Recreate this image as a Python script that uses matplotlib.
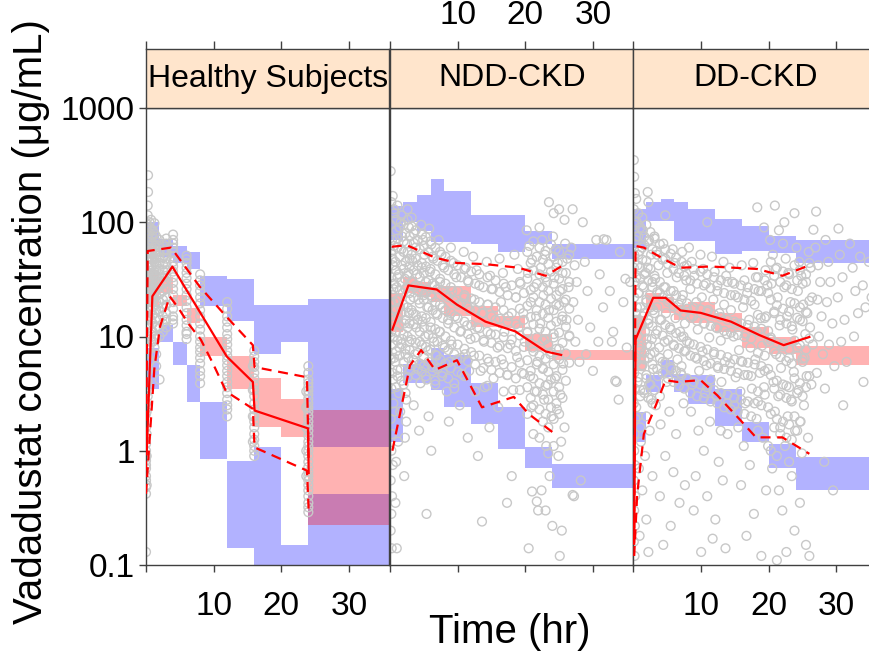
import matplotlib
matplotlib.use('Agg')
import matplotlib.pyplot as plt
import numpy as np

plt.rcParams['font.family'] = ['Liberation Sans', 'DejaVu Sans']

# ---------------- data ----------------
panel_titles = ["Healthy Subjects", "NDD-CKD", "DD-CKD"]
x_ticks = [0, 10, 20, 30]
x_ticklabels = ["", "10", "20", "30"]
y_ticks = [0.1, 1, 10, 100, 1000]
y_ticklabels = ["0.1", "1", "10", "100", "1000"]

# bin edges (hr)
hs_edges = [0, 0.2, 1.85, 4, 6, 8, 12, 16, 20, 24, 36]
ndd_edges = [0, 1.85, 4, 6, 8, 12, 16, 20, 24, 36]
dd_edges = [0, 1.9, 4, 6, 8, 12, 16, 20, 24, 36]

# simulated 90% CI per bin: (low, high)
hs_upper_ci = [(1.2, 6), (62, 100), (50, 71), (44, 62), (39, 55), (18.4, 33.8), (13.6, 31.6), (7.0, 18.8), (9.0, 18.8), (1.07, 21.3)]
hs_median_ci = [(0.5, 1.2), (18, 38), (24, 33), (18.4, 23.3), (13.1, 17.8), (6.7, 10), (3.5, 6.7), (1.6, 4.3), (1.31, 2.86), (0.225, 2.28)]
hs_lower_ci = [(0.05, 0.225), (3.5, 8), (9.0, 12.7), (5.6, 9.0), (2.67, 5.6), (0.84, 2.67), (0.14, 0.82), (0.05, 1.07), (0.05, 0.15), (0.05, 0.415)]

ndd_upper_ci = [(70, 140), (100, 150), (84, 172), (67, 241), (67, 186), (64, 115), (55, 115), (64, 84), (48, 64)]
ndd_median_ci = [(11, 24), (24, 33), (22, 30), (20, 27), (15, 27.6), (12.2, 18.4), (11.9, 15), (7.5, 10.5), (6.2, 7.6)]
ndd_lower_ci = [(1.2, 3.5), (3.9, 5.8), (3.9, 6.2), (3.4, 7.9), (2.4, 6.9), (1.72, 3.9), (1.03, 2.4), (0.71, 1.07), (0.47, 0.76)]

dd_upper_ci = [(60, 130), (103, 150), (103, 160), (69, 150), (69, 131), (52.5, 107), (56, 93), (54, 76), (44, 70)]
dd_median_ci = [(5, 15), (17, 24), (16, 22), (14, 19), (13, 20), (11, 16), (8, 12), (7, 10), (5.6, 8.2)]
dd_lower_ci = [(1.2, 2.2), (3.27, 4.6), (4.4, 6.2), (3.27, 4.7), (2.58, 4.6), (1.66, 3.5), (1.19, 1.78), (0.71, 1.15), (0.45, 0.88)]

# observed percentiles (lines)
hs_med_t = [0.1, 0.94, 3.9, 11.95, 15.8, 16.05, 23.95, 24.05]
hs_med_c = [0.93, 22.5, 40.9, 6.67, 4.0, 2.25, 1.57, 0.64]
hs_p95_t = [0.0, 0.25, 3.7, 5.7, 7.9, 11.85, 15.8, 16.05, 23.8, 24.05]
hs_p95_c = [0.67, 56, 60, 41.5, 27.5, 15, 8.4, 5.4, 4.4, 0.8]
hs_p05_t = [0.0, 1.23, 2.07, 3.5, 4.94, 6.2, 8.1, 9.9, 11.85, 15.8, 16.05, 23.8, 24.05]
hs_p05_c = [0.42, 5.2, 12.2, 22.5, 17.2, 13.1, 9.4, 5.8, 3.3, 2.33, 1.07, 0.67, 0.3]

ndd_med_t = [0.35, 2.72, 6.9, 9.9, 14.1, 18.5, 23.0, 25.3]
ndd_med_c = [11.5, 28, 25.8, 19, 13.5, 11.1, 7.4, 6.9]
ndd_p95_t = [0.25, 2.47, 6.67, 9.9, 14.1, 19.0, 23.0, 25.3]
ndd_p95_c = [61, 63, 49, 44, 43, 40, 34, 41]
ndd_p05_t = [0.35, 2.96, 4.6, 6.67, 9.9, 13.6, 18.3, 20.5, 24.4]
ndd_p05_c = [1.0, 5.6, 7.6, 5.1, 6.2, 2.4, 2.96, 2.1, 1.4]

dd_med_t = [0.1, 0.3, 2.9, 4.74, 6.96, 9.93, 14.4, 18.6, 22.2, 26.0]
dd_med_c = [0.16, 9.4, 21.8, 21.8, 16.9, 16.1, 13.5, 10.3, 8.4, 9.9]
dd_p95_t = [0.1, 0.3, 1.53, 4.5, 6.96, 11.4, 18.3, 22.0, 26.0]
dd_p95_c = [0.15, 62, 60, 47.5, 40, 41, 39, 34, 42]
dd_p05_t = [0.1, 0.54, 1.53, 3.0, 4.74, 6.47, 9.93, 12.4, 15.85, 18.1, 22.0, 26.0]
dd_p05_c = [0.12, 0.41, 1.4, 2.25, 4.15, 4.0, 4.15, 3.05, 1.84, 1.31, 1.31, 0.94]

# observed concentrations, healthy subjects (sampling time -> values)
hs_obs_times = [0.0, 0.1, 0.25, 0.3, 0.5, 0.75, 1, 1.25, 1.5, 2, 2.5, 3, 4, 6, 8, 12, 15.8, 16, 23.7, 24]
hs_obs_conc = [
    [0.13, 0.42, 0.48, 0.55, 0.6, 0.7, 0.75, 0.82, 0.9, 1.0, 1.15, 1.3, 1.6, 2.1, 2.6, 3.2, 4.0],
    [0.5, 0.9, 1.4, 2.2, 3.5, 5.5, 9, 14, 22, 35, 55, 90],
    [3, 4, 5, 6.5, 8, 10, 12, 15, 18, 21, 25, 30, 35, 41, 48, 54, 60, 67, 75, 85, 95, 115, 140],
    [184, 258],
    [6, 8, 10, 12.5, 15, 17.5, 20, 23, 26, 29, 32, 36, 40, 45, 50, 56, 62, 70, 80, 90, 100],
    [7, 9, 11, 14, 17, 21, 25, 30, 35, 41, 48, 55, 64, 74, 88, 105],
    [9, 11, 13, 15.5, 18, 20, 22, 25, 28, 31, 35, 38, 42, 47, 52, 58, 65, 75, 85],
    [8, 10, 16, 24, 33, 45, 62, 80, 98],
    [5.5, 7, 9.5, 12, 14.5, 17, 20, 23, 26.5, 30, 34, 38, 43, 48, 54, 60, 67, 75],
    [4.2, 10, 12, 14, 16.5, 20, 23.5, 27, 31, 35, 39, 44, 49, 55, 62, 70],
    [11, 13, 15, 18, 21, 25, 29, 33, 38, 43, 49, 56, 64],
    [12, 14, 16, 19, 22, 26, 30, 34, 38, 43, 48, 53, 58, 65, 72],
    [13, 14, 15, 17.5, 20, 23, 26, 29.5, 33, 37, 41, 45, 50, 55, 60, 65, 70, 78],
    [9.5, 10.5, 11, 12.5, 14, 16, 18, 20.5, 23, 26, 29, 32.5, 36, 40, 44, 47.5, 51],
    [3.9, 4.5, 5, 5.8, 6.5, 7.3, 8, 9, 10, 11.5, 13, 15, 17, 19.5, 22, 25, 28, 31, 35],
    [2.0, 2.3, 2.5, 2.8, 3.2, 3.6, 4, 4.5, 5, 5.6, 6.2, 6.8, 7.5, 8.5, 9.5, 10.5, 12, 13.5, 15, 17.5, 20],
    [1.2, 2.0, 3.4, 5.5],
    [0.9, 1.0, 1.1, 1.25, 1.4, 1.6, 1.8, 2.0, 2.3, 2.6, 3, 3.4, 3.8, 4.3, 4.8, 5.4, 6, 6.7, 7.5],
    [0.6, 1.0, 1.6, 2.4, 3.3],
    [0.29, 0.32, 0.35, 0.4, 0.45, 0.5, 0.55, 0.6, 0.65, 0.72, 0.8, 0.9, 1.0, 1.1, 1.2, 1.35, 1.5,
     1.65, 1.8, 2.0, 2.2, 2.4, 2.6, 2.85, 3.1, 3.35, 3.6, 3.9, 4.2, 4.8, 5.5],
]

# observed concentrations, NDD-CKD, scattered samples (time, conc)
ndd_obs_t = [
    0.1, 0.2, 0.1, 0.3, 0.15, 0.4, 0.2, 0.5, 0.1, 0.3, 0.2, 0.45, 0.1, 0.35, 0.2, 0.5, 0.1, 0.3, 0.2, 0.4, 0.1, 0.3, 0.2, 0.1, 0.25,
    0.7, 0.9, 1.1, 0.8, 1.3, 1.0, 0.7, 1.2, 0.9, 1.4, 0.8, 1.1, 1.3, 1.6, 1.8, 2.0, 1.7, 2.2, 1.9, 1.5, 2.1, 1.8, 2.3, 1.6, 2.0, 2.4,
    2.6, 2.8, 2.5, 2.9, 2.7, 2.5, 3.0, 2.8, 2.6, 2.9, 2.7, 3.0, 2.4, 1.2, 0.9, 2.1, 1.5, 2.2, 0.8,
    3.2, 3.5, 3.8, 3.3, 4.0, 3.6, 4.2, 3.4, 3.9, 4.4, 3.7, 4.1, 4.5, 4.6, 4.9, 5.1, 4.7, 5.3, 5.0, 5.5, 4.8, 5.2, 5.6, 5.0, 5.4,
    5.8, 6.1, 6.4, 5.9, 6.6, 6.2, 6.8, 6.0, 6.5, 6.9, 6.3, 6.7, 3.5, 5.7, 4.3, 6.1, 5.4, 1.0,
    7.2, 7.6, 8.0, 7.4, 8.3, 7.8, 8.6, 7.3, 8.1, 8.8, 7.7, 8.4, 9.0, 9.4, 9.8, 9.2, 10.1, 9.6, 10.4, 9.1, 9.9, 10.6, 9.5,
    10.9, 11.2, 11.6, 11.0, 11.8, 11.4, 11.9, 11.1, 11.7, 10.3, 8.7, 11.5,
    12.3, 12.8, 13.2, 12.5, 13.6, 12.9, 13.9, 12.4, 13.4, 14.0, 14.3, 14.8, 15.2, 14.5, 15.6, 14.9, 15.9, 14.6, 15.3,
    16.2, 16.7, 17.1, 16.4, 17.5, 16.9, 17.8, 16.5, 17.3, 18.2, 18.4, 18.9, 19.3, 18.6, 19.7, 19.0, 19.9, 18.8, 19.5,
    16.0, 14.7, 18.0, 13.0, 17.3, 13.6,
    20.2, 20.6, 21.0, 20.4, 21.3, 20.8, 21.6, 20.3, 21.1, 21.8, 20.7, 21.4, 20.9, 22.1, 22.5, 22.9, 22.3, 23.2, 22.7, 23.5, 22.2,
    23.0, 23.7, 22.6, 23.3, 22.8, 23.9, 24.1, 24.5, 24.8, 24.3, 25.1, 24.6, 25.4, 24.2, 25.0, 25.6, 24.4, 25.2, 24.7, 25.8,
    25.9, 26.2, 25.5, 26.4, 25.7, 26.1, 26.5, 25.3, 24.9, 23.6, 22.4, 21.9, 24.0, 20.5, 25.1, 21.7, 23.0, 25.4, 21.0,
    23.5, 25.0, 25.8, 24.2, 23.1,
    27.0, 26.8, 27.3, 27.6, 27.1, 27.8, 27.4, 28.0, 28.5, 28.8, 29.2, 29.6, 29.0, 30.0, 30.5, 31.0, 31.5, 30.8, 32.0, 32.5,
    33.0, 33.5, 34.0, 34.5, 35.0, 35.5, 27.2, 28.2, 33.8, 27.0, 31.6, 34.8, 33.3, 32.8,
]
ndd_obs_c = [
    280, 150, 95, 70, 55, 42, 33, 26, 20, 15, 11, 8.5, 6.3, 4.8, 3.5, 2.6, 1.9, 1.4, 1.0, 0.75, 0.55, 0.4, 0.28, 0.2, 0.14,
    120, 85, 60, 45, 35, 27, 20, 15, 11, 8, 6, 4.5, 3.2, 100, 75, 55, 42, 32, 24, 18, 13, 9.5, 7, 5.2, 3.8, 2.8,
    130, 90, 65, 48, 36, 27, 21, 16, 12, 9, 6.5, 5, 1.8, 1.2, 0.8, 0.6, 2.2, 1.3, 0.35,
    110, 80, 60, 46, 35, 27, 21, 16, 12, 9, 7, 5.2, 3.9, 95, 70, 52, 40, 30, 23, 18, 13.5, 10, 7.5, 5.5, 4.2,
    88, 64, 48, 37, 28, 22, 16, 12, 9, 6.8, 5, 3.8, 2.5, 2.0, 1.5, 1.0, 0.28, 0.14,
    70, 52, 40, 30, 23, 18, 14, 11, 8, 6, 4.5, 3.3, 60, 44, 33, 25, 19, 15, 11, 8.5, 6.3, 4.7, 3.5,
    55, 40, 30, 22, 17, 12.5, 9.5, 7, 5, 2.5, 1.8, 1.3,
    50, 38, 28, 21, 16, 12, 9, 6.8, 5, 3.6, 45, 34, 26, 19, 14, 10.5, 8, 6, 4.3,
    48, 36, 27, 20, 15, 11, 8.5, 6.3, 4.6, 3.4, 52, 39, 29, 22, 16, 12, 9, 6.6, 4.8,
    2.4, 1.6, 0.6, 0.9, 0.35, 0.24,
    85, 62, 47, 36, 27, 20, 15, 11, 8, 6, 4.5, 3.3, 2.4, 90, 70, 52, 40, 30, 23, 17, 13,
    9.5, 7, 5.2, 3.8, 2.8, 2.0, 75, 58, 44, 33, 25, 19, 14, 10.5, 7.8, 5.8, 4.3, 3.1, 2.3, 1.6,
    65, 48, 36, 27, 20, 14, 10, 1.2, 0.9, 0.6, 0.45, 0.3, 0.22, 0.14, 0.12, 0.36, 0.3, 0.2, 0.44,
    150, 130, 105, 120, 1.1,
    130, 60, 42, 30, 20, 14, 9, 6, 100, 45, 25, 12, 7, 5, 70, 35, 18, 9, 70, 25,
    11, 4, 55, 20, 8, 30, 0.4, 0.55, 2.8, 0.41, 71, 32, 4.1, 9,
]

# observed concentrations, NDD-CKD, dense core (time -> values)
ndd_core_times = [0.4, 0.6, 0.9, 1.1, 1.4, 1.7, 2.0, 2.3, 2.6, 2.9, 3.2, 3.5, 3.8, 4.1, 4.4, 4.7, 5.0, 5.3,
                  5.7, 6.0, 6.3, 6.7, 7.0, 7.4, 7.8, 8.2, 8.6, 9.0, 9.5, 10.0, 10.5, 11.0, 11.5, 12.0, 12.6,
                  13.2, 13.8, 14.4, 15.0, 15.6, 16.2, 16.8, 17.4, 18.0, 18.6, 19.2, 19.8, 20.3, 20.8, 21.2,
                  21.7, 22.1, 22.6, 23.0, 23.4, 23.8, 24.2, 24.6, 25.0, 25.5, 26.0, 26.5]
ndd_core_conc = [
    [170, 48, 23, 9.8, 4.2], [130, 62, 29, 14, 6.5, 2.2], [105, 38, 17, 7.4, 3.6], [140, 72, 33, 21, 9.2, 5.1],
    [90, 50, 25, 12.5, 6.8], [115, 58, 30, 16, 8.6, 4.1], [95, 68, 39, 19, 10.5, 6.0], [80, 45, 26, 14, 7.8, 3.2],
    [105, 55, 34, 18, 10, 4.4], [75, 41, 24, 13, 7.6], [92, 52, 30, 17, 9.4, 5.6], [66, 38, 22, 12.8, 6.2],
    [85, 48, 28, 15.5, 8.8, 4.6], [70, 42, 25, 14, 7.2], [58, 33, 19.5, 11, 5.8], [78, 44, 26, 15, 8.4, 4.9],
    [62, 36, 21, 12, 6.6], [74, 41, 24, 14.5, 8.1, 4.5], [55, 31, 18, 10.4, 6], [68, 39, 23, 13.4, 7.7],
    [50, 29, 17, 9.7, 5.4], [60, 35, 20, 11.6, 6.9, 4.1], [46, 26, 15.5, 9, 5.2], [55, 32, 19, 11, 6.3],
    [42, 25, 14.5, 8.3, 4.8], [50, 29, 17, 10, 5.8], [38, 22, 13, 7.6, 4.3], [46, 27, 16, 9.2, 5.3],
    [35, 20.5, 12, 7, 3.9], [42, 25, 14.5, 8.5, 4.9], [33, 19.5, 11.2, 6.5], [39, 23, 13.5, 7.8, 4.5],
    [31, 18, 10.5, 6.1], [37, 21.5, 12.6, 7.3], [29, 17, 9.8, 5.7, 3.3], [35, 20, 11.8, 6.8],
    [27, 16, 9.3, 5.3], [33, 19, 11, 6.4, 3.7], [26, 15, 8.8, 5.1], [31, 18, 10.4, 6],
    [24.5, 14.3, 8.3, 4.8], [29, 17, 9.9, 5.7, 3.3], [23, 13.5, 7.9, 4.6], [28, 16, 9.4, 5.4],
    [22, 12.8, 7.5, 4.3], [30, 17.5, 10.2, 5.9, 3.4], [24, 14, 8.1, 4.7],
    [55, 32, 18.5, 10.8, 6.2, 3.6, 2.1], [44, 25.5, 14.8, 8.6, 5.0, 2.9], [68, 38, 22, 12.8, 7.4, 4.3, 2.5, 1.4],
    [50, 29, 17, 9.8, 5.7, 3.3], [60, 35, 20, 11.7, 6.8, 3.9, 2.3, 1.3], [47, 27, 15.8, 9.2, 5.3, 3.1, 1.8],
    [56, 33, 19, 11, 6.4, 3.7, 2.1], [43, 25, 14.6, 8.5, 4.9, 2.8, 1.6, 0.95], [64, 37, 21.5, 12.5, 7.3, 4.2, 2.4],
    [50, 29, 17, 9.8, 5.7, 3.3, 1.9, 1.1], [40, 23, 13.5, 7.8, 4.5, 2.6], [55, 32, 18.6, 10.8, 6.3, 3.6, 2.1],
    [45, 26, 15, 8.8, 5.1, 2.9], [36, 21, 12.2, 7.1, 4.1], [52, 30, 17.5, 10.2, 5.9],
]

# observed concentrations, DD-CKD, scattered samples (time, conc)
dd_obs_t = [
    0.05, 0.1, 0.2, 0.05, 0.15, 0.25, 0.1, 0.05, 0.2, 0.1, 0.3, 0.05, 0.15, 0.25, 0.1, 0.2, 0.05, 0.3, 0.15, 0.1, 0.2, 0.05, 0.25, 0.1, 0.2, 0.05, 0.15,
    0.5, 0.7, 0.9, 0.6, 1.0, 0.8, 0.5, 1.1, 0.7, 0.9, 1.2, 0.6, 1.0, 1.4, 1.6, 1.3, 1.8, 1.5, 1.9, 1.4, 1.7, 2.0, 1.6, 1.9, 1.5,
    2.2, 2.3, 2.6, 2.1, 2.8, 2.4, 2.9, 2.2, 2.7, 2.5, 2.9, 2.3, 2.6,
    0.6, 1.1, 0.8, 1.7, 2.4, 1.3, 2.8, 1.9, 0.9, 2.2,
    3.1, 3.4, 3.7, 3.2, 3.9, 3.5, 4.1, 3.3, 3.8, 4.3, 3.6, 4.4, 4.7, 5.0, 4.5, 5.2, 4.8, 5.4, 4.6, 5.1, 5.6, 4.9,
    5.8, 6.1, 6.4, 5.9, 6.7, 6.2, 6.9, 6.0, 6.5, 7.0, 7.2, 7.5, 7.8, 7.3, 7.9, 7.6, 7.4, 7.7, 7.1,
    3.3, 4.0, 5.3, 6.3, 7.4, 4.7, 5.9, 3.9, 6.8, 5.5, 7.6, 4.4, 2.1, 4.7,
    8.2, 8.6, 9.0, 8.4, 9.3, 8.8, 9.5, 8.3, 9.1, 9.7, 8.7, 9.9, 10.3, 10.7, 10.1, 11.0, 10.5, 11.2, 10.2, 10.8, 11.4, 10.6,
    11.6, 12.0, 12.4, 11.8, 12.7, 12.2, 12.9, 11.9, 12.5, 13.0, 12.3, 13.3, 13.7, 13.4, 13.8, 13.5, 13.9,
    8.5, 9.6, 10.4, 11.3, 12.6, 9.2, 10.9, 12.1, 13.2, 8.9, 11.7, 13.6, 10.0, 10.9,
    14.2, 14.6, 15.0, 14.4, 15.3, 14.8, 15.6, 14.3, 15.1, 15.8, 14.9, 16.0, 16.4, 16.8, 16.2, 17.1, 16.6, 17.3, 16.1, 16.9, 17.5, 16.5,
    17.7, 18.1, 18.5, 17.9, 18.8, 18.3, 19.0, 18.0, 18.7, 19.3, 18.4, 19.5, 19.8, 19.6, 19.9, 19.4,
    15.5, 16.3, 17.2, 18.2, 19.1, 15.9, 17.8, 19.6, 16.7, 18.9, 18.3, 19.3,
    20.2, 20.6, 21.0, 20.4, 21.3, 20.8, 21.6, 20.3, 21.1, 21.8, 20.7, 21.4, 20.9, 21.7, 22.1, 22.5, 22.9, 22.3, 23.2, 22.7, 23.5,
    22.2, 23.0, 23.7, 22.6, 23.3, 22.8, 23.9, 22.4, 24.1, 24.5, 24.8, 24.3, 25.1, 24.6, 25.4, 24.2, 25.0, 25.6, 24.4, 25.2, 24.7,
    25.8, 24.9, 25.9, 26.2, 25.5, 26.4, 25.7, 26.1, 26.5, 25.3, 26.3,
    20.5, 21.5, 22.0, 23.4, 23.8, 24.6, 25.5, 26.0, 21.2, 22.6, 20.9, 22.3, 23.8, 21.5,
    27.0, 26.6, 30.3, 26.9, 27.3, 27.6, 27.2, 27.8, 27.4, 28.0, 27.1, 28.4, 28.8, 29.1, 28.6, 29.4, 28.9, 29.7, 28.3,
    30.5, 30.9, 30.2, 31.2, 30.7, 31.5, 32.0, 32.4, 32.8, 33.2, 32.6, 33.5, 33.9, 34.3, 34.8, 35.2, 35.6, 34.0, 31.0, 28.2, 29.5,
]
dd_obs_c = [
    350, 250, 180, 130, 95, 70, 52, 40, 30, 22, 16, 12, 9, 6.5, 4.8, 3.5, 2.6, 1.9, 1.4, 1.0, 0.75, 0.55, 0.4, 0.3, 0.22, 0.16, 0.12,
    100, 75, 56, 42, 32, 24, 18, 13, 10, 7.5, 5.5, 4, 3, 85, 63, 47, 36, 27, 20, 15, 11, 8.5, 6.3, 4.6, 3.4,
    150, 70, 52, 40, 30, 23, 17, 13, 9.5, 7, 5.2, 3.8, 2.8,
    2.0, 1.2, 0.7, 0.9, 1.5, 0.45, 0.6, 0.25, 0.18, 0.13,
    75, 56, 42, 32, 24, 18, 14, 10.5, 8, 6, 4.5, 65, 48, 36, 27, 21, 16, 12, 9, 7, 5.2, 4.0,
    58, 44, 33, 25, 19, 14.5, 11, 8.3, 6.3, 4.8, 55, 41, 31, 23, 17.5, 13, 10, 7.5, 5.5,
    2.5, 1.7, 2.2, 1.4, 2.6, 0.9, 0.65, 0.4, 0.35, 0.22, 0.5, 0.15, 184, 115,
    60, 45, 34, 26, 20, 15, 11.5, 8.7, 6.6, 5, 3.8, 52, 39, 29, 22, 17, 13, 9.8, 7.4, 5.6, 4.2, 3.2,
    50, 37, 28, 21, 16, 12, 9.2, 7, 5.3, 4.0, 3.0, 45, 34, 19, 10.5, 6, 2.6,
    2.2, 1.5, 1.0, 1.8, 0.8, 0.6, 0.4, 0.25, 0.55, 0.3, 0.17, 0.14, 0.13, 100,
    40, 30, 23, 17, 13, 10, 7.6, 5.8, 4.4, 3.3, 2.5, 42, 31, 24, 18, 14, 10.6, 8, 6, 4.6, 3.5, 2.6,
    44, 33, 25, 19, 14.5, 11, 8.3, 6.3, 4.8, 3.6, 2.7, 38, 28, 15, 9, 5,
    1.6, 1.1, 0.75, 1.9, 1.3, 0.5, 0.28, 0.45, 0.18, 0.12, 135, 90,
    70, 52, 39, 29, 22, 16.5, 12.5, 9.4, 7, 5.3, 4, 3, 2.2, 1.6, 65, 48, 36, 27, 20, 15, 11.5,
    8.6, 6.5, 4.9, 3.7, 2.8, 2.0, 1.5, 1.1, 60, 45, 34, 25, 19, 14, 10.5, 8, 6, 4.5, 3.4, 2.5, 1.8,
    1.3, 0.95, 55, 40, 30, 22, 16, 12, 8.5, 6.5, 3.8,
    0.7, 0.45, 0.3, 0.6, 0.2, 0.35, 0.15, 0.12, 0.11, 0.13, 140, 100, 120, 85,
    124, 86, 88, 60, 42, 30, 21, 15, 10, 7, 4.8, 70, 45, 30, 20, 13, 8.5, 5.5, 3.5,
    52, 33, 22, 14, 9, 6, 65, 40, 25, 16, 10, 50, 28, 18, 45, 22, 12, 4, 2.5, 0.8, 0.45,
]

# observed concentrations, DD-CKD, dense core (time -> values)
dd_core_times = [0.4, 0.7, 1.0, 1.3, 1.6, 1.9, 2.2, 2.5, 2.8, 3.1, 3.5, 3.9, 4.3, 4.7, 5.1, 5.5, 5.9, 6.3, 6.7,
                 7.1, 7.5, 7.9, 8.4, 8.9, 9.4, 9.9, 10.4, 10.9, 11.4, 11.9, 12.4, 12.9, 13.4, 13.9, 14.4, 14.9,
                 15.4, 15.9, 16.4, 16.9, 17.4, 17.9, 18.4, 18.9, 19.4, 19.9, 20.3, 20.8, 21.2, 21.7, 22.1,
                 22.6, 23.0, 23.4, 23.8, 24.2, 24.6, 25.0, 25.5, 26.0]
dd_core_conc = [
    [160, 75, 33, 14, 6, 2.4], [120, 52, 24, 10, 4.4], [90, 40, 18, 8, 3.4, 1.6], [110, 60, 28, 12.5, 5.6],
    [75, 35, 16, 7.2, 3.2], [95, 46, 21, 9.6, 4.3, 2.0], [68, 31, 14, 6.5, 2.9], [82, 39, 18, 8.3, 3.8],
    [58, 27, 12.3, 5.7, 2.6], [72, 34, 16, 7.3, 3.4], [52, 24.5, 11.3, 5.2], [64, 30, 14, 6.5, 3.0],
    [47, 22, 10.2, 4.8], [58, 27, 12.6, 5.9], [43, 20, 9.3, 4.3], [53, 25, 11.5, 5.4], [39, 18.3, 8.5, 4],
    [49, 23, 10.7, 5], [36, 17, 7.9, 3.7], [45, 21, 9.9, 4.6], [34, 16, 7.4, 3.5], [42, 19.5, 9.1, 4.3],
    [31, 14.6, 6.8, 3.2], [39, 18, 8.5, 4.0], [29, 13.7, 6.4, 3.0], [37, 17.3, 8.1, 3.8], [28, 13, 6.1, 2.9],
    [35, 16.5, 7.7, 3.6], [26.5, 12.4, 5.8, 2.7], [33, 15.6, 7.3, 3.4], [25, 11.8, 5.5, 2.6],
    [31, 14.8, 6.9, 3.2, 1.5], [24, 11.2, 5.2, 2.4], [30, 14, 6.6, 3.1, 1.4], [23, 10.8, 5, 2.3],
    [29, 13.5, 6.3, 2.9], [22, 10.3, 4.8, 2.2], [28, 13, 6.1, 2.8], [21, 9.9, 4.6, 2.1], [27, 12.6, 5.9, 2.7],
    [20.5, 9.6, 4.5, 2.0], [26, 12.2, 5.7, 2.6], [33, 15.5, 7.2, 3.3, 1.5], [25, 11.7, 5.5, 2.5],
    [31, 14.5, 6.8, 3.1], [24, 11.2, 5.2, 2.4, 1.1], [45, 21, 9.8, 4.6, 2.1, 1.0], [34, 16, 7.4, 3.5, 1.6],
    [40, 18.8, 8.8, 4.1, 1.9, 0.9], [30, 14, 6.6, 3.1, 1.4], [37, 17.5, 8.2, 3.8, 1.8], [28, 13, 6.1, 2.9, 1.3],
    [35, 16.5, 7.7, 3.6, 1.7, 0.8], [26, 12.3, 5.8, 2.7, 1.25], [42, 19.5, 9.2, 4.3, 2.0], [31, 14.6, 6.8, 3.2, 1.5],
    [38, 18, 8.4, 3.9, 1.8], [29, 13.6, 6.4, 3.0], [35, 16.4, 7.7, 3.6], [44, 20.5, 9.6, 4.5],
]

# ---------------- layout ----------------
W, H = 870, 657
fig = plt.figure(figsize=(W / 100, H / 100), dpi=100)

panel_left = [146, 390, 633.5]
panel_w = 243.5
p_top, p_bot = 108, 565
s_top = 49

BLUE = (0, 0, 1, 0.3)
PINK = (1, 0, 0, 0.3)
GREY = '#C8C8C8'
FRAME = '#404040'
TICK_FS = 24

panels = [
    (hs_edges, hs_upper_ci, hs_median_ci, hs_lower_ci,
     (hs_med_t, hs_med_c), (hs_p95_t, hs_p95_c), (hs_p05_t, hs_p05_c)),
    (ndd_edges, ndd_upper_ci, ndd_median_ci, ndd_lower_ci,
     (ndd_med_t, ndd_med_c), (ndd_p95_t, ndd_p95_c), (ndd_p05_t, ndd_p05_c)),
    (dd_edges, dd_upper_ci, dd_median_ci, dd_lower_ci,
     (dd_med_t, dd_med_c), (dd_p95_t, dd_p95_c), (dd_p05_t, dd_p05_c)),
]


def flatten(times, concs):
    tt = [t for t, cs in zip(times, concs) for _ in cs]
    cc = [c for cs in concs for c in cs]
    return tt, cc


hs_t_all, hs_c_all = flatten(hs_obs_times, hs_obs_conc)
ndd_ct, ndd_cc = flatten(ndd_core_times, ndd_core_conc)
dd_ct, dd_cc = flatten(dd_core_times, dd_core_conc)
obs = [(hs_t_all, hs_c_all),
       (ndd_obs_t + ndd_ct, ndd_obs_c + ndd_cc),
       (dd_obs_t + dd_ct, dd_obs_c + dd_cc)]

for i, (edges, up, med, lo, lmed, l95, l05) in enumerate(panels):
    left = panel_left[i]
    ax = fig.add_axes([left / W, 1 - p_bot / H, panel_w / W, (p_bot - p_top) / H])
    ax.set_yscale('log')
    ax.set_xlim(0, 36)
    ax.set_ylim(0.1, 1000)
    e = np.array(edges, dtype=float)
    widths = np.diff(e)
    for band, col in ((up, BLUE), (lo, BLUE), (med, PINK)):
        lows = np.array([b[0] for b in band])
        highs = np.array([b[1] for b in band])
        ax.bar(e[:-1], highs - lows, bottom=lows, width=widths, align='edge',
               color=col, linewidth=0, zorder=1)
    ax.scatter(obs[i][0], obs[i][1], s=40, facecolors='none', edgecolors=GREY,
               linewidths=1.0, zorder=2)
    ax.plot(lmed[0], lmed[1], color='red', lw=1.6, zorder=3)
    ax.plot(l95[0], l95[1], color='red', lw=1.6, ls=(0, (4.5, 3)), zorder=3)
    ax.plot(l05[0], l05[1], color='red', lw=1.6, ls=(0, (4.5, 3)), zorder=3)

    for sp in ax.spines.values():
        sp.set_color(FRAME)
        sp.set_linewidth(1.0)
    ax.set_xticks(x_ticks)
    if i in (0, 2):
        ax.set_xticklabels(x_ticklabels)
    else:
        ax.set_xticklabels([""] * len(x_ticks))
    ax.tick_params(axis='x', direction='out', length=5, width=1, color=FRAME,
                   labelsize=TICK_FS, pad=14)
    if i == 0:
        ax.set_yticks(y_ticks)
        ax.set_yticklabels(y_ticklabels)
        ax.tick_params(axis='y', direction='out', length=5, width=1, color=FRAME,
                       labelsize=TICK_FS, pad=3)
    else:
        ax.set_yticks([])
    ax.yaxis.set_minor_locator(matplotlib.ticker.NullLocator())

    # strip
    sax = fig.add_axes([left / W, 1 - p_top / H, panel_w / W, (p_top - s_top) / H])
    sax.set_facecolor('#FFE5CC')
    sax.set_xlim(0, 36)
    sax.set_yticks([])
    for sp in sax.spines.values():
        sp.set_color(FRAME)
        sp.set_linewidth(1.0)
    sax.xaxis.tick_top()
    sax.set_xticks(x_ticks)
    if i == 1:
        sax.set_xticklabels(x_ticklabels)
    else:
        sax.set_xticklabels([""] * len(x_ticks))
    sax.tick_params(axis='x', direction='out', length=6, width=1, color=FRAME,
                    labelsize=TICK_FS, pad=7)
    sax.text(0.5, 0.5, panel_titles[i], transform=sax.transAxes, ha='center',
             va='center', fontsize=23, color='black')

fig.text(31 / W, 1 - 322 / H, "Vadadustat concentration (μg/mL)", rotation=90,
         ha='center', va='center', fontsize=29)
fig.text(510 / W, 1 - 632 / H, "Time (hr)", ha='center', va='center', fontsize=29)

fig.savefig('out.png', dpi=100)
